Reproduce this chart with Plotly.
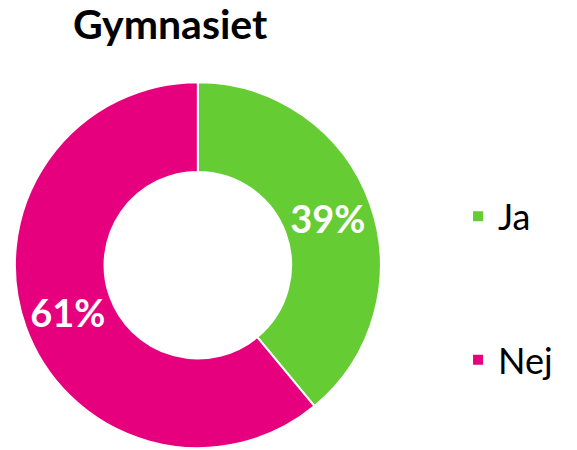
import plotly.graph_objects as go

title_text = "Gymnasiet"
labels = ["Ja", "Nej"]
values = [39, 61]
colors = ["#66CC33", "#E6007E"]
text_labels = ["39%", "61%"]

# legend entries padded with blank lines to reproduce the wide spacing
legend_labels = [labels[0] + "<br> <br> ", labels[1]]

fig = go.Figure(go.Pie(
    labels=legend_labels,
    values=values,
    text=text_labels,
    textinfo="text",
    textposition="inside",
    insidetextorientation="horizontal",
    textfont=dict(family="Lato", size=38, color="white", weight="bold"),
    marker=dict(colors=colors, line=dict(color="white", width=2)),
    hole=0.51,
    sort=False,
    direction="clockwise",
    rotation=0,
    domain=dict(x=[0.007, 0.651], y=[0.022, 0.835]),
    hoverinfo="skip",
))

fig.update_layout(
    width=577, height=450,
    margin=dict(l=0, r=0, t=0, b=0),
    paper_bgcolor="white",
    plot_bgcolor="white",
    title=dict(text="<b>" + title_text + "</b>", x=0.281, xanchor="center",
               y=0.996, yanchor="top",
               font=dict(family="Lato", size=41, color="black")),
    legend=dict(x=0.78, xanchor="left", y=0.377, yanchor="middle",
                font=dict(family="Lato", size=36, color="black"),
                valign="top", traceorder="normal"),
    showlegend=True,
)

fig.write_html("out.html")
